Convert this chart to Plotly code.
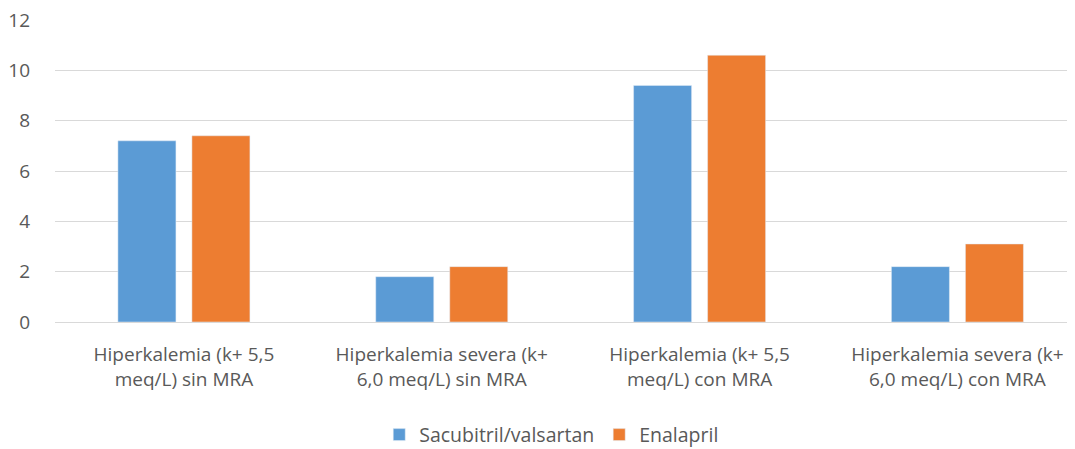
import plotly.graph_objects as go

categories = [
    "Hiperkalemia (k+ 5,5<br>meq/L) sin MRA",
    "Hiperkalemia severa (k+<br>6,0 meq/L) sin MRA",
    "Hiperkalemia (k+ 5,5<br>meq/L) con MRA",
    "Hiperkalemia severa (k+<br>6,0 meq/L) con MRA",
]
sacubitril = [7.2, 1.8, 9.4, 2.2]
enalapril = [7.4, 2.2, 10.6, 3.1]
yticks = [0, 2, 4, 6, 8, 10, 12]

fig = go.Figure()
fig.add_trace(go.Bar(name="Sacubitril/valsartan", x=categories, y=sacubitril,
                     marker=dict(color="#5b9bd5")))
fig.add_trace(go.Bar(name="Enalapril", x=categories, y=enalapril,
                     marker=dict(color="#ed7d31")))

font_fam = "'Open Sans', Lato, sans-serif"
fig.update_layout(
    width=1067, height=441,
    margin=dict(l=47, r=0, t=12, b=127, autoexpand=False),
    plot_bgcolor="white", paper_bgcolor="white",
    barmode="group", bargap=0.426, bargroupgap=0.216,
    font=dict(family=font_fam, size=19, color="#595959"),
    legend=dict(orientation="h", x=0.487, xanchor="center", y=-0.374, yanchor="middle",
                font=dict(size=19.5, color="#595959"), itemwidth=30),
    showlegend=True,
)
fig.update_yaxes(range=[0, 12], tickvals=yticks, showgrid=True, gridcolor="#d9d9d9",
                 gridwidth=1, zeroline=True, zerolinecolor="#d9d9d9", zerolinewidth=1,
                 ticks="", ticklabelstandoff=24, automargin=False,
                 ticklabeloverflow="allow")
fig.update_xaxes(showline=False, ticks="", tickangle=0, range=[-0.5, 3.456],
                 ticklabelstandoff=19, automargin=False, ticklabeloverflow="allow")

fig.write_html("out.html")
